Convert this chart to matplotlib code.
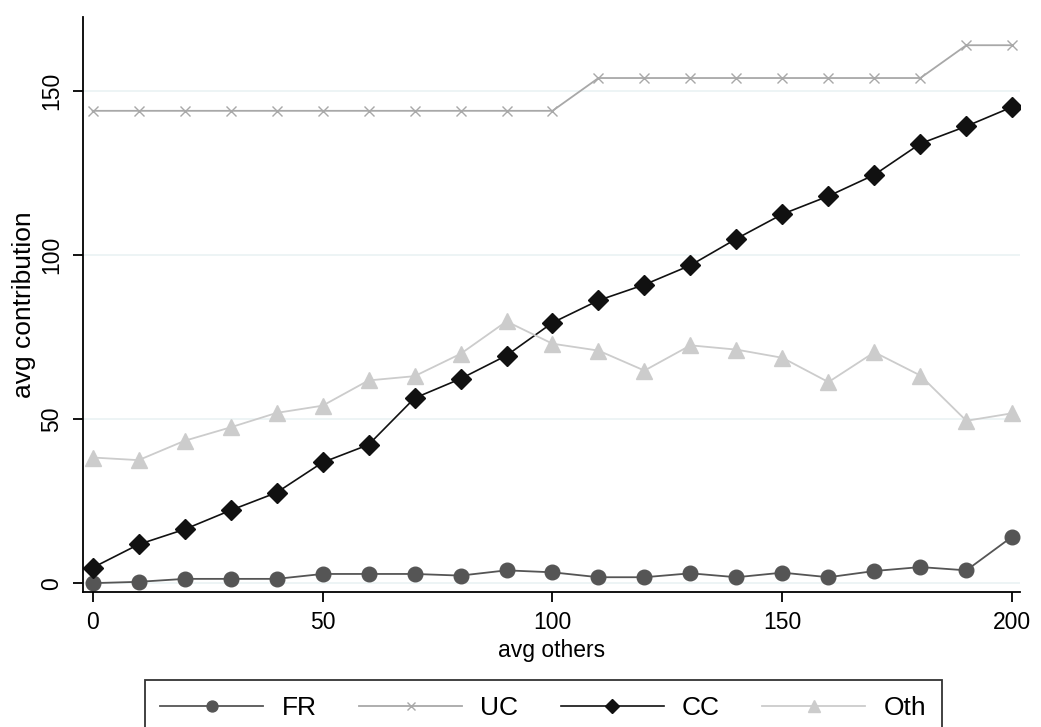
import matplotlib
matplotlib.use("Agg")
import matplotlib.pyplot as plt
import numpy as np

plt.rcParams["font.family"] = ["Liberation Sans", "DejaVu Sans"]

avg_others = list(range(0, 201, 10))
fr = [0.0, 0.4, 1.3, 1.3, 1.3, 2.8, 2.8, 2.8, 2.3, 3.9, 3.3,
      1.8, 1.8, 3.0, 1.8, 3.2, 1.8, 3.7, 4.9, 3.9, 14.2]
uc = [144] * 11 + [154] * 8 + [164] * 2
cc = [4.7, 11.8, 16.4, 22.2, 27.6, 36.8, 42.2, 56.4, 62.3, 69.4, 79.4,
      86.2, 91.0, 96.9, 105.0, 112.5, 118.0, 124.5, 134.0, 139.3, 145.2]
oth = [38.3, 37.5, 43.4, 47.5, 51.9, 54.1, 61.8, 63.1, 69.9, 79.8, 73.0,
       70.9, 64.8, 72.5, 71.2, 68.7, 61.3, 70.4, 63.3, 49.5, 51.8]

fig = plt.figure(figsize=(10.41, 7.27), dpi=100)
ax = fig.add_axes([0.0797, 0.1857, 0.9003, 0.7909])

ax.plot(avg_others, fr, color="#555555", lw=1.3, marker="o", ms=10.5, label="FR")
ax.plot(avg_others, uc, color="#a8a8a8", lw=1.3, marker="x", ms=7, mew=1.0, label="UC")
ax.plot(avg_others, cc, color="#111111", lw=1.2, marker="D", ms=10, label="CC")
ax.plot(avg_others, oth, color="#cccccc", lw=1.3, marker="^", ms=12, label="Oth")

ax.set_xlim(-2.1, 201.7)
ax.set_ylim(-2.7, 172.6)
ax.set_xticks([0, 50, 100, 150, 200])
ax.set_yticks([0, 50, 100, 150])
ax.set_yticklabels(["0", "50", "100", "150"], rotation=90, va="center")
ax.yaxis.grid(True, color="#eaf2f3", lw=1.2)
ax.set_axisbelow(True)
for side in ["top", "right"]:
    ax.spines[side].set_visible(False)
for side in ["left", "bottom"]:
    ax.spines[side].set_linewidth(1.3)
ax.tick_params(axis="both", length=7.5, width=1.3, labelsize=16.5)
ax.tick_params(axis="x", pad=6)
ax.tick_params(axis="y", pad=7)
ax.set_xlabel("avg others", fontsize=16.5, labelpad=4)
ax.set_ylabel("avg contribution", fontsize=19, labelpad=3)

leg = fig.legend(loc="upper center", bbox_to_anchor=(0.522, 0.0646), ncol=4,
                 fontsize=19, frameon=True, fancybox=False, edgecolor="black",
                 handlelength=3.9, handletextpad=0.7, columnspacing=1.6,
                 borderpad=0.6, borderaxespad=0.0, markerscale=0.75)
leg.get_frame().set_linewidth(1.3)

fig.savefig("out.png", dpi=100)
